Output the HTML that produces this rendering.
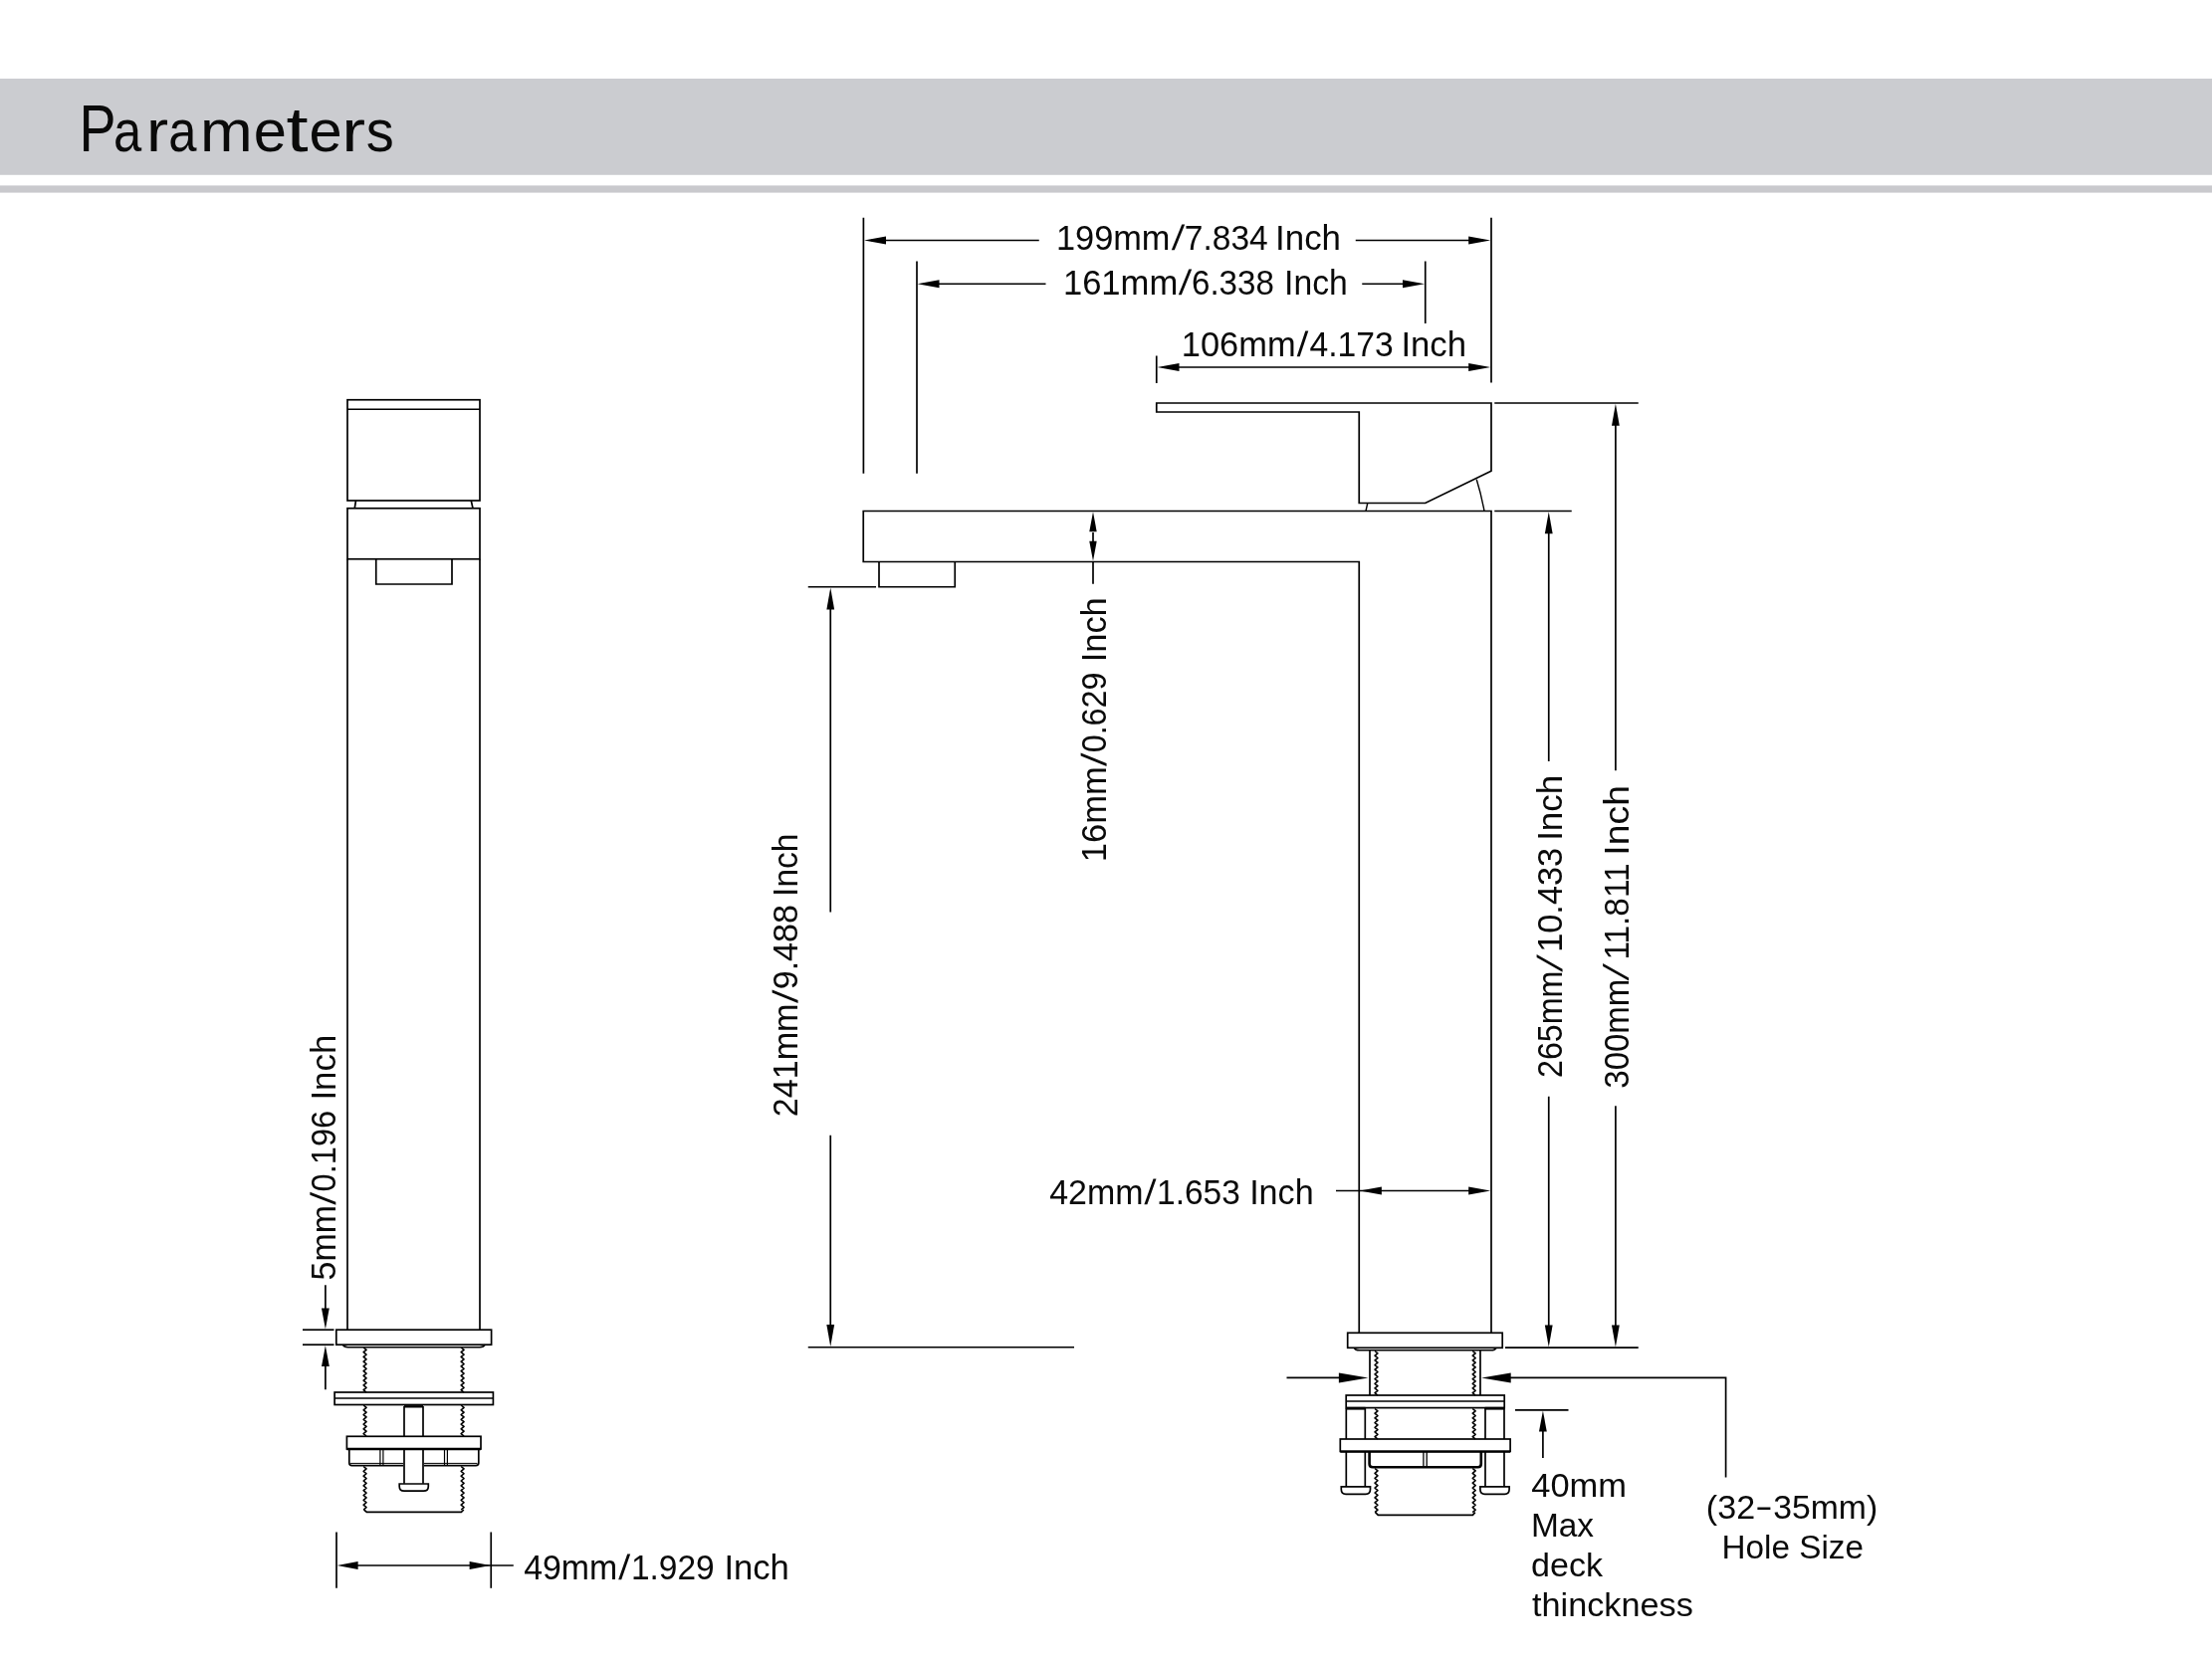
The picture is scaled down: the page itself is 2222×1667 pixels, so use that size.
<!DOCTYPE html>
<html lang="en">
<head>
<meta charset="utf-8">
<title>Parameters</title>
<style>
html,body{margin:0;padding:0;background:#fff;}
body{width:2222px;height:1667px;position:relative;overflow:hidden;font-family:"Liberation Sans",sans-serif;}
svg{position:absolute;left:0;top:0;will-change:transform;}
svg line,svg path,svg rect{stroke:#000;stroke-linecap:butt;}
svg text{font-family:"Liberation Sans",sans-serif;fill:#0a0a0a;stroke:none;}
</style>
</head>
<body>

<svg width="2222" height="1667" viewBox="0 0 2222 1667">
<rect x="0" y="79" width="2222" height="96.8" fill="#cbccd0" style="stroke:none"/>
<rect x="0" y="186.4" width="2222" height="7.2" fill="#c9c9cd" style="stroke:none"/>
<rect x="349" y="401.75" width="133" height="101.25" rx="0" stroke-width="1.7" fill="none"/>
<line x1="349" y1="411.25" x2="482" y2="411.25" stroke-width="1.7"/>
<line x1="357.5" y1="503" x2="356.25" y2="510.75" stroke-width="1.7"/>
<line x1="473.25" y1="503" x2="475" y2="510.75" stroke-width="1.7"/>
<rect x="349" y="510.75" width="133" height="51" rx="0" stroke-width="1.7" fill="none"/>
<line x1="349" y1="561.75" x2="349" y2="1336.2" stroke-width="1.7"/>
<line x1="482" y1="561.75" x2="482" y2="1336.2" stroke-width="1.7"/>
<path d="M377.75,561.75 V587 H454 V561.75" stroke-width="1.7" fill="none" />
<rect x="337.8" y="1336.2" width="155.8" height="15" rx="0" stroke-width="1.7" fill="none"/>
<path d="M344.3,1351.2 Q345.5,1353.7 349.5,1353.7 H482 Q486,1353.7 487.2,1351.2" stroke-width="1.6" fill="none" />
<path d="M365.15,1354 L368.05,1356.37 L365.15,1358.74 L368.05,1361.11 L365.15,1363.47 L368.05,1365.84 L365.15,1368.21 L368.05,1370.58 L365.15,1372.95 L368.05,1375.32 L365.15,1377.68 L368.05,1380.05 L365.15,1382.42 L368.05,1384.79 L365.15,1387.16 L368.05,1389.53 L365.15,1391.89 L368.05,1394.26 L365.15,1396.63 L368.05,1399.00" stroke-width="1.6" fill="none" stroke-linejoin="round" stroke-linecap="round"/>
<path d="M463.15,1354 L466.05,1356.37 L463.15,1358.74 L466.05,1361.11 L463.15,1363.47 L466.05,1365.84 L463.15,1368.21 L466.05,1370.58 L463.15,1372.95 L466.05,1375.32 L463.15,1377.68 L466.05,1380.05 L463.15,1382.42 L466.05,1384.79 L463.15,1387.16 L466.05,1389.53 L463.15,1391.89 L466.05,1394.26 L463.15,1396.63 L466.05,1399.00" stroke-width="1.6" fill="none" stroke-linejoin="round" stroke-linecap="round"/>
<rect x="336.1" y="1399" width="159.3" height="12.5" rx="0" stroke-width="1.7" fill="none"/>
<line x1="336.1" y1="1405" x2="495.4" y2="1405" stroke-width="1.7"/>
<path d="M365.15,1412 L368.05,1414.38 L365.15,1416.77 L368.05,1419.15 L365.15,1421.54 L368.05,1423.92 L365.15,1426.31 L368.05,1428.69 L365.15,1431.08 L368.05,1433.46 L365.15,1435.85 L368.05,1438.23 L365.15,1440.62 L368.05,1443.00" stroke-width="1.6" fill="none" stroke-linejoin="round" stroke-linecap="round"/>
<path d="M463.15,1412 L466.05,1414.38 L463.15,1416.77 L466.05,1419.15 L463.15,1421.54 L466.05,1423.92 L463.15,1426.31 L466.05,1428.69 L463.15,1431.08 L466.05,1433.46 L463.15,1435.85 L466.05,1438.23 L463.15,1440.62 L466.05,1443.00" stroke-width="1.6" fill="none" stroke-linejoin="round" stroke-linecap="round"/>
<line x1="406" y1="1413" x2="406" y2="1443.3" stroke-width="1.7"/>
<line x1="425" y1="1413" x2="425" y2="1443.3" stroke-width="1.7"/>
<line x1="406" y1="1456" x2="406" y2="1490.8" stroke-width="1.7"/>
<line x1="425" y1="1456" x2="425" y2="1490.8" stroke-width="1.7"/>
<line x1="406" y1="1413.3" x2="425" y2="1413.3" stroke-width="2.4"/>
<rect x="348.4" y="1443.3" width="134.6" height="12.7" rx="0" stroke-width="1.7" fill="none"/>
<line x1="348.4" y1="1456" x2="483" y2="1456" stroke-width="2.4"/>
<path d="M350.8,1456 V1470 Q350.8,1472.6 353.5,1472.6 H405 M426,1472.6 H478 Q480.8,1472.6 480.8,1470 V1456" stroke-width="1.7" fill="none" />
<path d="M352,1470.4 H405 M426,1470.4 H479.5" stroke-width="1" fill="none" />
<line x1="381.9" y1="1456" x2="381.9" y2="1472" stroke-width="1.2"/>
<line x1="384.9" y1="1456" x2="384.9" y2="1472" stroke-width="1.2"/>
<line x1="446.5" y1="1456" x2="446.5" y2="1472" stroke-width="1.2"/>
<line x1="449.4" y1="1456" x2="449.4" y2="1472" stroke-width="1.2"/>
<path d="M365.15,1473.5 L368.05,1475.92 L365.15,1478.33 L368.05,1480.75 L365.15,1483.17 L368.05,1485.58 L365.15,1488.00 L368.05,1490.42 L365.15,1492.83 L368.05,1495.25 L365.15,1497.67 L368.05,1500.08 L365.15,1502.50 L368.05,1504.92 L365.15,1507.33 L368.05,1509.75 L365.15,1512.17 L368.05,1514.58 L365.15,1517.00" stroke-width="1.6" fill="none" stroke-linejoin="round" stroke-linecap="round"/>
<path d="M463.15,1473.5 L466.05,1475.92 L463.15,1478.33 L466.05,1480.75 L463.15,1483.17 L466.05,1485.58 L463.15,1488.00 L466.05,1490.42 L463.15,1492.83 L466.05,1495.25 L463.15,1497.67 L466.05,1500.08 L463.15,1502.50 L466.05,1504.92 L463.15,1507.33 L466.05,1509.75 L463.15,1512.17 L466.05,1514.58 L463.15,1517.00" stroke-width="1.6" fill="none" stroke-linejoin="round" stroke-linecap="round"/>
<path d="M365.6,1517 L368.4,1519.3 H463.4 L465.8,1517" stroke-width="1.7" fill="none" />
<path d="M401.2,1491 H430.3 V1493.5 Q430.3,1498.2 425.5,1498.2 H406 Q401.2,1498.2 401.2,1493.5 Z" stroke-width="1.7" fill="none" />
<line x1="304" y1="1336.2" x2="335.5" y2="1336.2" stroke-width="1.7"/>
<line x1="304" y1="1351.2" x2="335.5" y2="1351.2" stroke-width="1.7"/>
<line x1="326.9" y1="1291.3" x2="326.9" y2="1320" stroke-width="1.7"/>
<polygon points="326.9,1335.6 323,1314.6 330.8,1314.6" fill="#000" stroke="none"/>
<polygon points="326.9,1352 323,1373 330.8,1373" fill="#000" stroke="none"/>
<line x1="326.9" y1="1370" x2="326.9" y2="1396.3" stroke-width="1.7"/>
<text x="337.00" y="1286.46" font-size="35" textLength="75.45" lengthAdjust="spacingAndGlyphs" transform="rotate(-90 337.00 1286.46)">5mm</text>
<polygon points="337.30,1210.80 337.30,1207.80 311.40,1197.70 311.40,1200.70" fill="#0a0a0a" stroke="none"/>
<text x="337.00" y="1197.41" font-size="35" textLength="81.69" lengthAdjust="spacingAndGlyphs" transform="rotate(-90 337.00 1197.41)">0.196</text>
<text x="337.00" y="1105.62" font-size="35" textLength="65.90" lengthAdjust="spacingAndGlyphs" transform="rotate(-90 337.00 1105.62)">Inch</text>
<line x1="338" y1="1539.5" x2="338" y2="1595.8" stroke-width="1.7"/>
<line x1="493.25" y1="1539.5" x2="493.25" y2="1595.8" stroke-width="1.7"/>
<line x1="345" y1="1573" x2="515.8" y2="1573" stroke-width="1.7"/>
<polygon points="338.6,1573 359.6,1569.1 359.6,1576.9" fill="#000" stroke="none"/>
<polygon points="492.6,1573 471.6,1569.1 471.6,1576.9" fill="#000" stroke="none"/>
<text x="526.24" y="1587.00" font-size="35" textLength="93.99" lengthAdjust="spacingAndGlyphs">49mm</text>
<polygon points="621.20,1587.30 624.20,1587.30 633.20,1561.40 630.20,1561.40" fill="#0a0a0a" stroke="none"/>
<text x="633.89" y="1587.00" font-size="35" textLength="83.72" lengthAdjust="spacingAndGlyphs">1.929</text>
<text x="727.50" y="1587.00" font-size="35" textLength="65.35" lengthAdjust="spacingAndGlyphs">Inch</text>
<path d="M1161.75,405 H1498 V473.25 L1431.75,505.5 H1365.25 V414 H1161.75 Z" stroke-width="1.7" fill="none" />
<line x1="1373.75" y1="505.5" x2="1372" y2="513.5" stroke-width="1.4"/>
<path d="M1483.25,481.75 Q1488,497 1491,513.5" stroke-width="1.4" fill="none" />
<path d="M1498,1339 V513.5 H867.25 V564.5 H1365.25 V1339" stroke-width="1.7" fill="none" />
<path d="M883,564.5 V589.75 H959.25 V564.5" stroke-width="1.7" fill="none" />
<rect x="1353.7" y="1339.3" width="155.5" height="15" rx="0" stroke-width="1.7" fill="none"/>
<path d="M1360.3,1354.3 Q1361.5,1356.8 1365.5,1356.8 H1497.5 Q1501.8,1356.8 1503,1354.3" stroke-width="1.6" fill="none" />
<line x1="1376" y1="1357" x2="1376" y2="1402" stroke-width="1.7"/>
<line x1="1487" y1="1357" x2="1487" y2="1402" stroke-width="1.7"/>
<path d="M1381.05,1357.5 L1383.95,1359.84 L1381.05,1362.18 L1383.95,1364.53 L1381.05,1366.87 L1383.95,1369.21 L1381.05,1371.55 L1383.95,1373.89 L1381.05,1376.24 L1383.95,1378.58 L1381.05,1380.92 L1383.95,1383.26 L1381.05,1385.61 L1383.95,1387.95 L1381.05,1390.29 L1383.95,1392.63 L1381.05,1394.97 L1383.95,1397.32 L1381.05,1399.66 L1383.95,1402.00" stroke-width="1.6" fill="none" stroke-linejoin="round" stroke-linecap="round"/>
<path d="M1479.25,1357.5 L1482.15,1359.84 L1479.25,1362.18 L1482.15,1364.53 L1479.25,1366.87 L1482.15,1369.21 L1479.25,1371.55 L1482.15,1373.89 L1479.25,1376.24 L1482.15,1378.58 L1479.25,1380.92 L1482.15,1383.26 L1479.25,1385.61 L1482.15,1387.95 L1479.25,1390.29 L1482.15,1392.63 L1479.25,1394.97 L1482.15,1397.32 L1479.25,1399.66 L1482.15,1402.00" stroke-width="1.6" fill="none" stroke-linejoin="round" stroke-linecap="round"/>
<rect x="1352.2" y="1402" width="159" height="12.6" rx="0" stroke-width="1.7" fill="none"/>
<line x1="1352.2" y1="1408" x2="1511.2" y2="1408" stroke-width="1.7"/>
<line x1="1352.2" y1="1415.2" x2="1371.5" y2="1415.2" stroke-width="2.8"/>
<line x1="1491.7" y1="1415.2" x2="1511.2" y2="1415.2" stroke-width="2.8"/>
<line x1="1352.3" y1="1415" x2="1352.3" y2="1446" stroke-width="1.7"/>
<line x1="1352.3" y1="1458.5" x2="1352.3" y2="1493.5" stroke-width="1.7"/>
<line x1="1371.3" y1="1415" x2="1371.3" y2="1446" stroke-width="1.7"/>
<line x1="1371.3" y1="1458.5" x2="1371.3" y2="1493.5" stroke-width="1.7"/>
<line x1="1492" y1="1415" x2="1492" y2="1446" stroke-width="1.7"/>
<line x1="1492" y1="1458.5" x2="1492" y2="1493.5" stroke-width="1.7"/>
<line x1="1511" y1="1415" x2="1511" y2="1446" stroke-width="1.7"/>
<line x1="1511" y1="1458.5" x2="1511" y2="1493.5" stroke-width="1.7"/>
<path d="M1381.05,1415.5 L1383.95,1417.85 L1381.05,1420.19 L1383.95,1422.54 L1381.05,1424.88 L1383.95,1427.23 L1381.05,1429.58 L1383.95,1431.92 L1381.05,1434.27 L1383.95,1436.62 L1381.05,1438.96 L1383.95,1441.31 L1381.05,1443.65 L1383.95,1446.00" stroke-width="1.6" fill="none" stroke-linejoin="round" stroke-linecap="round"/>
<path d="M1479.25,1415.5 L1482.15,1417.85 L1479.25,1420.19 L1482.15,1422.54 L1479.25,1424.88 L1482.15,1427.23 L1479.25,1429.58 L1482.15,1431.92 L1479.25,1434.27 L1482.15,1436.62 L1479.25,1438.96 L1482.15,1441.31 L1479.25,1443.65 L1482.15,1446.00" stroke-width="1.6" fill="none" stroke-linejoin="round" stroke-linecap="round"/>
<rect x="1346.3" y="1446" width="170.8" height="12.4" rx="0" stroke-width="1.7" fill="none"/>
<line x1="1346.3" y1="1458.6" x2="1517.1" y2="1458.6" stroke-width="2.4"/>
<path d="M1375.6,1459 V1471 Q1375.6,1474.2 1379,1474.2 H1484.5 Q1487.8,1474.2 1487.8,1471 V1459" stroke-width="2.6" fill="none" />
<line x1="1429.9" y1="1459" x2="1429.9" y2="1473" stroke-width="1.3"/>
<line x1="1433.2" y1="1459" x2="1433.2" y2="1473" stroke-width="1.3"/>
<path d="M1347.3,1493.8 H1376.5 V1496.5 Q1376.5,1501.3 1371.8,1501.3 H1352 Q1347.3,1501.3 1347.3,1496.5 Z" stroke-width="1.7" fill="none" />
<path d="M1486.9,1493.8 H1516.1 V1496.5 Q1516.1,1501.3 1511.4,1501.3 H1491.6 Q1486.9,1501.3 1486.9,1496.5 Z" stroke-width="1.7" fill="none" />
<path d="M1381.05,1475.5 L1383.95,1477.95 L1381.05,1480.40 L1383.95,1482.85 L1381.05,1485.30 L1383.95,1487.75 L1381.05,1490.20 L1383.95,1492.65 L1381.05,1495.10 L1383.95,1497.55 L1381.05,1500.00 L1383.95,1502.45 L1381.05,1504.90 L1383.95,1507.35 L1381.05,1509.80 L1383.95,1512.25 L1381.05,1514.70 L1383.95,1517.15 L1381.05,1519.60" stroke-width="1.6" fill="none" stroke-linejoin="round" stroke-linecap="round"/>
<path d="M1479.25,1475.5 L1482.15,1477.95 L1479.25,1480.40 L1482.15,1482.85 L1479.25,1485.30 L1482.15,1487.75 L1479.25,1490.20 L1482.15,1492.65 L1479.25,1495.10 L1482.15,1497.55 L1479.25,1500.00 L1482.15,1502.45 L1479.25,1504.90 L1482.15,1507.35 L1479.25,1509.80 L1482.15,1512.25 L1479.25,1514.70 L1482.15,1517.15 L1479.25,1519.60" stroke-width="1.6" fill="none" stroke-linejoin="round" stroke-linecap="round"/>
<path d="M1381.6,1519.6 L1384.3,1522.3 H1479.4 L1481.8,1519.6" stroke-width="1.7" fill="none" />
<line x1="867.4" y1="218.75" x2="867.4" y2="475.75" stroke-width="1.7"/>
<line x1="1498" y1="218.75" x2="1498" y2="384.5" stroke-width="1.7"/>
<line x1="875" y1="241.5" x2="1043.75" y2="241.5" stroke-width="1.7"/>
<line x1="1361.75" y1="241.5" x2="1490" y2="241.5" stroke-width="1.7"/>
<polygon points="868,241.5 890,237.6 890,245.4" fill="#000" stroke="none"/>
<polygon points="1497.2,241.5 1475.2,237.6 1475.2,245.4" fill="#000" stroke="none"/>
<text x="1060.92" y="251.00" font-size="35" textLength="114.60" lengthAdjust="spacingAndGlyphs">199mm</text>
<polygon points="1176.80,251.30 1179.80,251.30 1190.20,225.40 1187.20,225.40" fill="#0a0a0a" stroke="none"/>
<text x="1189.84" y="251.00" font-size="35" textLength="83.88" lengthAdjust="spacingAndGlyphs">7.834</text>
<text x="1281.08" y="251.00" font-size="35" textLength="65.90" lengthAdjust="spacingAndGlyphs">Inch</text>
<line x1="921" y1="262.5" x2="921" y2="475.75" stroke-width="1.7"/>
<line x1="1431.75" y1="262.5" x2="1431.75" y2="325" stroke-width="1.7"/>
<line x1="930" y1="285.25" x2="1050.5" y2="285.25" stroke-width="1.7"/>
<line x1="1368.25" y1="285.25" x2="1425" y2="285.25" stroke-width="1.7"/>
<polygon points="921.5,285.25 943.5,281.35 943.5,289.15" fill="#000" stroke="none"/>
<polygon points="1431,285.25 1409,281.35 1409,289.15" fill="#000" stroke="none"/>
<text x="1067.91" y="296.00" font-size="35" textLength="115.33" lengthAdjust="spacingAndGlyphs">161mm</text>
<polygon points="1183.80,296.30 1186.80,296.30 1197.20,270.40 1194.20,270.40" fill="#0a0a0a" stroke="none"/>
<text x="1196.94" y="296.00" font-size="35" textLength="82.97" lengthAdjust="spacingAndGlyphs">6.338</text>
<text x="1290.08" y="296.00" font-size="35" textLength="63.72" lengthAdjust="spacingAndGlyphs">Inch</text>
<line x1="1161.75" y1="357.5" x2="1161.75" y2="385" stroke-width="1.7"/>
<line x1="1170" y1="369" x2="1490" y2="369" stroke-width="1.7"/>
<polygon points="1162.5,369 1184.5,365.1 1184.5,372.9" fill="#000" stroke="none"/>
<polygon points="1497.2,369 1475.2,365.1 1475.2,372.9" fill="#000" stroke="none"/>
<text x="1186.82" y="358.00" font-size="35" textLength="114.80" lengthAdjust="spacingAndGlyphs">106mm</text>
<polygon points="1302.70,358.30 1305.70,358.30 1314.30,332.40 1311.30,332.40" fill="#0a0a0a" stroke="none"/>
<text x="1315.54" y="358.00" font-size="35" textLength="84.29" lengthAdjust="spacingAndGlyphs">4.173</text>
<text x="1407.39" y="358.00" font-size="35" textLength="65.68" lengthAdjust="spacingAndGlyphs">Inch</text>
<line x1="1098" y1="535" x2="1098" y2="545" stroke-width="1.7"/>
<line x1="1098" y1="564.5" x2="1098" y2="586.75" stroke-width="1.7"/>
<polygon points="1098,514.3 1094.3,534.3 1101.7,534.3" fill="#000" stroke="none"/>
<polygon points="1098,563.7 1094.3,543.7 1101.7,543.7" fill="#000" stroke="none"/>
<text x="1111.25" y="866.19" font-size="35" textLength="96.07" lengthAdjust="spacingAndGlyphs" transform="rotate(-90 1111.25 866.19)">16mm</text>
<polygon points="1111.55,769.90 1111.55,766.90 1085.65,756.60 1085.65,759.60" fill="#0a0a0a" stroke="none"/>
<text x="1111.25" y="756.29" font-size="35" textLength="80.74" lengthAdjust="spacingAndGlyphs" transform="rotate(-90 1111.25 756.29)">0.629</text>
<text x="1111.25" y="665.28" font-size="35" textLength="65.02" lengthAdjust="spacingAndGlyphs" transform="rotate(-90 1111.25 665.28)">Inch</text>
<line x1="811.75" y1="589.75" x2="880" y2="589.75" stroke-width="1.7"/>
<line x1="811.75" y1="1353.75" x2="1079" y2="1353.75" stroke-width="1.7"/>
<line x1="834.25" y1="600" x2="834.25" y2="916.5" stroke-width="1.7"/>
<line x1="834.25" y1="1140.75" x2="834.25" y2="1345" stroke-width="1.7"/>
<polygon points="834.25,590.5 830.35,612.5 838.15,612.5" fill="#000" stroke="none"/>
<polygon points="834.25,1353 830.35,1331 838.15,1331" fill="#000" stroke="none"/>
<text x="801.25" y="1122.20" font-size="35" textLength="113.60" lengthAdjust="spacingAndGlyphs" transform="rotate(-90 801.25 1122.20)">241mm</text>
<polygon points="801.55,1008.10 801.55,1005.10 775.65,994.60 775.65,997.60" fill="#0a0a0a" stroke="none"/>
<text x="801.25" y="994.32" font-size="35" textLength="85.27" lengthAdjust="spacingAndGlyphs" transform="rotate(-90 801.25 994.32)">9.488</text>
<text x="801.25" y="900.90" font-size="35" textLength="63.39" lengthAdjust="spacingAndGlyphs" transform="rotate(-90 801.25 900.90)">Inch</text>
<line x1="1342" y1="1196.5" x2="1490" y2="1196.5" stroke-width="1.7"/>
<polygon points="1365.9,1196.5 1387.9,1192.6 1387.9,1200.4" fill="#000" stroke="none"/>
<polygon points="1497.2,1196.5 1475.2,1192.6 1475.2,1200.4" fill="#000" stroke="none"/>
<text x="1054.24" y="1210.00" font-size="35" textLength="94.30" lengthAdjust="spacingAndGlyphs">42mm</text>
<polygon points="1149.40,1210.30 1152.40,1210.30 1161.50,1184.40 1158.50,1184.40" fill="#0a0a0a" stroke="none"/>
<text x="1162.09" y="1210.00" font-size="35" textLength="83.73" lengthAdjust="spacingAndGlyphs">1.653</text>
<text x="1255.14" y="1210.00" font-size="35" textLength="64.48" lengthAdjust="spacingAndGlyphs">Inch</text>
<line x1="1501.25" y1="405" x2="1645.75" y2="405" stroke-width="1.7"/>
<line x1="1501.25" y1="513.5" x2="1578.75" y2="513.5" stroke-width="1.7"/>
<line x1="1512" y1="1354.2" x2="1645.75" y2="1354.2" stroke-width="1.7"/>
<line x1="1555.75" y1="530" x2="1555.75" y2="765" stroke-width="1.7"/>
<line x1="1555.75" y1="1101.75" x2="1555.75" y2="1340" stroke-width="1.7"/>
<polygon points="1555.75,514.3 1551.85,536.3 1559.65,536.3" fill="#000" stroke="none"/>
<polygon points="1555.75,1353.4 1551.85,1331.4 1559.65,1331.4" fill="#000" stroke="none"/>
<text x="1569.25" y="1083.01" font-size="35" textLength="107.39" lengthAdjust="spacingAndGlyphs" transform="rotate(-90 1569.25 1083.01)">265mm</text>
<polygon points="1569.55,976.80 1569.55,973.80 1543.65,959.10 1543.65,962.10" fill="#0a0a0a" stroke="none"/>
<text x="1569.25" y="956.77" font-size="35" textLength="104.87" lengthAdjust="spacingAndGlyphs" transform="rotate(-90 1569.25 956.77)">10.433</text>
<text x="1569.25" y="844.83" font-size="35" textLength="66.01" lengthAdjust="spacingAndGlyphs" transform="rotate(-90 1569.25 844.83)">Inch</text>
<line x1="1622.9" y1="420" x2="1622.9" y2="774.25" stroke-width="1.7"/>
<line x1="1622.9" y1="1111.25" x2="1622.9" y2="1340" stroke-width="1.7"/>
<polygon points="1622.9,405.8 1619,427.8 1626.8,427.8" fill="#000" stroke="none"/>
<polygon points="1622.9,1353.4 1619,1331.4 1626.8,1331.4" fill="#000" stroke="none"/>
<text x="1635.75" y="1093.64" font-size="35" textLength="109.96" lengthAdjust="spacingAndGlyphs" transform="rotate(-90 1635.75 1093.64)">300mm</text>
<polygon points="1636.05,985.40 1636.05,982.40 1610.15,967.90 1610.15,970.90" fill="#0a0a0a" stroke="none"/>
<text x="1635.75" y="964.60" font-size="35" textLength="97.20" lengthAdjust="spacingAndGlyphs" transform="rotate(-90 1635.75 964.60)">11.811</text>
<text x="1635.75" y="859.76" font-size="35" textLength="70.70" lengthAdjust="spacingAndGlyphs" transform="rotate(-90 1635.75 859.76)">Inch</text>
<line x1="1292.5" y1="1384.4" x2="1350" y2="1384.4" stroke-width="1.7"/>
<polygon points="1374.4,1384.5 1344.9,1379.5 1344.9,1389.5" fill="#000" stroke="none"/>
<polygon points="1488.2,1384.5 1517.7,1379.5 1517.7,1389.5" fill="#000" stroke="none"/>
<path d="M1510,1384.4 H1733.6 V1484.5" stroke-width="1.7" fill="none" />
<text x="1713.87" y="1525.70" font-size="34" textLength="49.24" lengthAdjust="spacingAndGlyphs">(32</text>
<rect x="1765.4" y="1514.5" width="13" height="2.5" fill="#0a0a0a" style="stroke:none"/>
<text x="1781.13" y="1525.70" font-size="34" textLength="105.02" lengthAdjust="spacingAndGlyphs">35mm)</text>
<text x="1729.56" y="1565.60" font-size="34" textLength="142.36" lengthAdjust="spacingAndGlyphs">Hole Size</text>
<line x1="1522" y1="1416.8" x2="1575.5" y2="1416.8" stroke-width="1.7"/>
<line x1="1549.9" y1="1430" x2="1549.9" y2="1465" stroke-width="1.7"/>
<polygon points="1549.9,1417.5 1546,1438.5 1553.8,1438.5" fill="#000" stroke="none"/>
<text x="1538.22" y="1503.50" font-size="34" textLength="95.85" lengthAdjust="spacingAndGlyphs">40mm</text>
<text x="1537.94" y="1543.70" font-size="34" textLength="63.15" lengthAdjust="spacingAndGlyphs">Max</text>
<text x="1538.05" y="1584.20" font-size="34" textLength="71.94" lengthAdjust="spacingAndGlyphs">deck</text>
<text x="1538.99" y="1624.30" font-size="34" textLength="161.90" lengthAdjust="spacingAndGlyphs">thinckness</text>
<text class="ttl" transform="translate(79.51 151.70) scale(0.8422 0.9961)" font-size="66">P</text>
<text class="ttl" transform="translate(114.04 151.70) scale(0.7687 0.9105)" font-size="66">a</text>
<text class="ttl" transform="translate(147.12 151.70) scale(1.0061 0.9049)" font-size="66">r</text>
<text class="ttl" transform="translate(169.34 151.70) scale(0.7687 0.9105)" font-size="66">a</text>
<text class="ttl" transform="translate(201.03 151.70) scale(0.9589 0.9105)" font-size="66">m</text>
<text class="ttl" transform="translate(254.87 151.70) scale(0.9026 0.9105)" font-size="66">e</text>
<text class="ttl" transform="translate(287.51 151.70) scale(1.2062 0.9561)" font-size="66">t</text>
<text class="ttl" transform="translate(310.57 151.70) scale(0.9026 0.9105)" font-size="66">e</text>
<text class="ttl" transform="translate(343.27 151.70) scale(1.0848 0.9049)" font-size="66">r</text>
<text class="ttl" transform="translate(367.66 151.70) scale(0.8485 0.9105)" font-size="66">s</text>
</svg>
</body>
</html>
